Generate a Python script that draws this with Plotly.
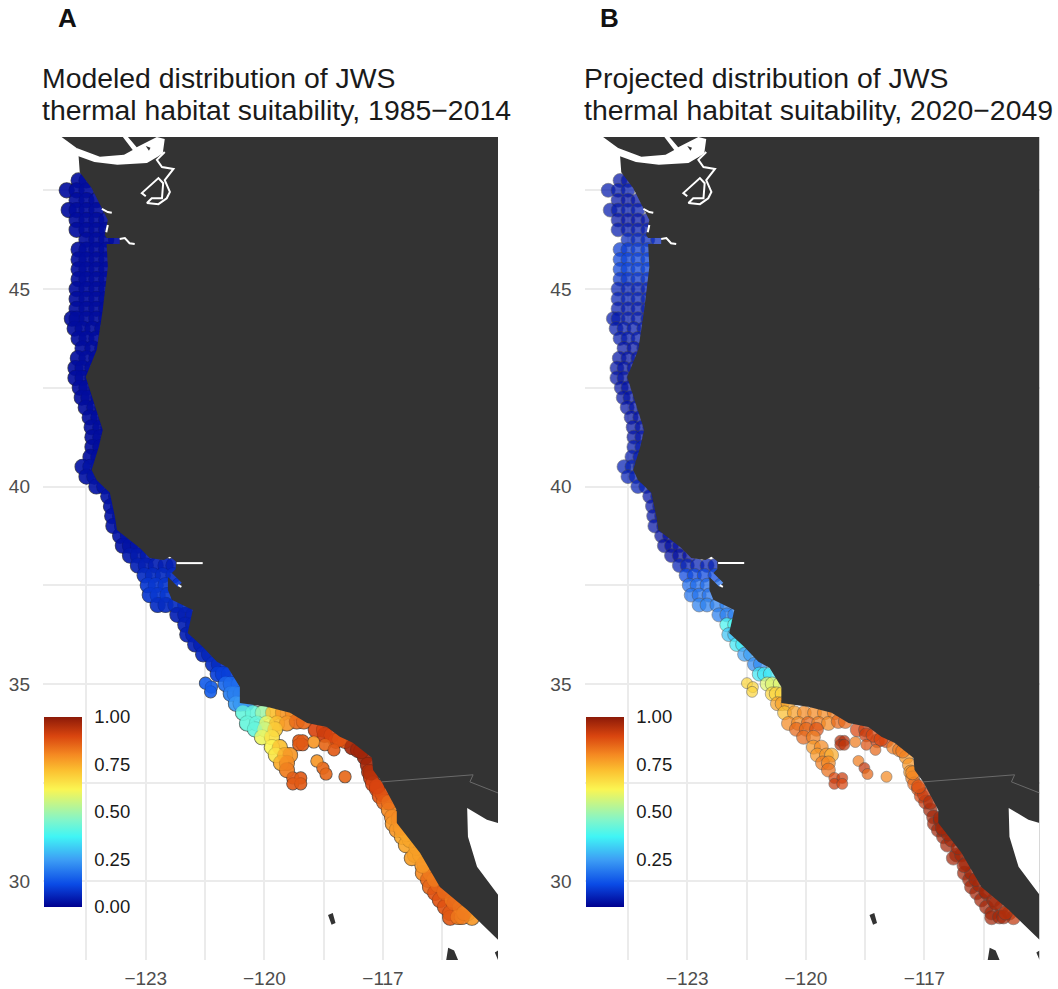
import plotly.graph_objects as go

W, H = 1058, 989
FONT = "Liberation Sans"

COLORSCALE = [[0, "#00008f"], [0.12, "#0a4be6"], [0.25, "#3d9ff5"], [0.37, "#40f5f5"],
              [0.46, "#84f5c8"], [0.62, "#fbf552"], [0.72, "#fbbf30"], [0.8, "#f58a22"],
              [0.9, "#d9450f"], [1, "#8c1a08"]]

LON_TICKS = [-124.5, -123, -121.5, -120, -118.5, -117, -115.5]
LON_LABELS = ["", "\u2212123", "", "\u2212120", "", "\u2212117", ""]
LAT_TICKS = [30, 32.5, 35, 37.5, 40, 42.5, 45, 47.5]
LAT_LABELS = ["30", "", "35", "", "40", "", "45", ""]
LEGEND_TICKS_A = [0, 0.25, 0.5, 0.75, 1]
LEGEND_TICKS_B = [0.25, 0.5, 0.75, 1]

# grid rows: latitude, longitudes, value in panel A, value in panel B
ROW_LAT = [47.75, 47.5, 47.25, 47, 46.75, 46.5, 46.25, 46, 45.75, 45.5, 45.25, 45, 44.75, 44.5, 44.25,
           44, 43.75, 43.5, 43.25, 43, 42.75, 42.5, 42.25, 42, 41.75, 41.5, 41.25, 41, 40.75, 40.5,
           40.25, 40, 39.75, 39.5, 39.25, 39, 38.75, 38.5, 38.25, 38, 37.75, 37.5, 37.25, 37, 36.75,
           36.5, 36.25, 36, 35.75, 35.5, 35.25, 35, 34.75, 34.5]
ROW_LON = [[-124.7, -124.5], [-125, -124.75, -124.5], [-124.75, -124.5, -124.25],
           [-124.95, -124.75, -124.5, -124.25], [-124.75, -124.5, -124.25, -124],
           [-124.75, -124.5, -124.25, -124], [-124.5, -124.25, -124, -123.75],
           [-124.7, -124.5, -124.25, -124], [-124.7, -124.5, -124.25, -124],
           [-124.7, -124.5, -124.25, -124], [-124.7, -124.5, -124.25, -124],
           [-124.75, -124.5, -124.25, -124], [-124.75, -124.5, -124.25, -124],
           [-124.75, -124.5, -124.25, -124], [-124.87, -124.75, -124.5, -124.25, -124],
           [-124.8, -124.6, -124.35, -124.1], [-124.7, -124.5, -124.25, -124],
           [-124.6, -124.35, -124.1], [-124.72, -124.5, -124.25], [-124.78, -124.6, -124.35],
           [-124.78, -124.6, -124.35], [-124.67, -124.5, -124.25], [-124.62, -124.45, -124.2],
           [-124.52, -124.3, -124.1], [-124.42, -124.2, -124], [-124.37, -124.15, -123.95],
           [-124.35, -124.15, -123.95], [-124.35, -124.15], [-124.4, -124.2],
           [-124.6, -124.4, -124.2], [-124.5, -124.3, -124.1], [-124.25, -124.05, -123.85],
           [-123.95, -123.75], [-123.88, -123.7], [-123.85, -123.65], [-123.82, -123.6],
           [-123.65, -123.45], [-123.58, -123.4, -123.2], [-123.4, -123.2, -122.95],
           [-123.2, -123, -122.75, -122.5, -122.3], [-123.03, -122.82, -122.57, -122.3],
           [-122.95, -122.75, -122.5, -122.15], [-122.9, -122.7, -122.45],
           [-122.7, -122.5, -122.25, -122], [-122.2, -122, -121.8], [-122, -121.8],
           [-121.95, -121.8], [-121.75, -121.6], [-121.55, -121.4], [-121.3, -121.15],
           [-121.18, -121.05, -120.9], [-120.98, -120.85, -120.65], [-120.85, -120.75, -120.6],
           [-120.72, -120.6, -120.45]]
ROW_A = [.02, .02, .02, .02, .02, .02, .02, .02, .02, .02, .02, .02, .02, .02, .02,
         .02, .02, .02, .02, .02, .02, .02, .02, .02, .02, .02, .02, .02, .02, .03,
         .03, .03, .03, .03, .03, .03, .03, .03, .04, .05, .07, .09, .09, .07, .05,
         .05, .05, .05, .06, .07, .1, .17, .2, .24]
ROW_B = [.03, .04, .03, .04, .03, .04, .06, .09, .1, .1, .08, .05, .05, .04, .04,
         .04, .04, .03, .03, .03, .03, .03, .03, .03, .03, .03, .03, .04, .04, .05,
         .05, .05, .03, .03, .03, .03, .02, .02, .02, .05, .11, .17, .18, .2, .2,
         .38, .3, .35, .25, .22, .35, .58, .68, .76]

# southern strip cells
PT_LON = [-120.54, -120.29, -120.04, -119.78, -119.53, -119.28, -120.44, -120.19, -119.94, -119.68, -119.43,
          -119.18, -119.0, -120.24, -119.99, -119.73, -120.06, -119.81, -119.81, -119.61, -119.71, -119.48,
          -119.35, -119.58, -119.43, -119.43,
          -118.7, -118.49, -118.47, -118.19, -117.96, -117.78, -117.63, -117.46, -117.38, -117.35, -117.3,
          -117.25, -117.15, -117.08, -116.97, -116.85, -116.77, -116.75, -116.65, -116.52, -116.42, -116.19,
          -116.27, -115.99, -115.86, -115.81, -115.68, -115.56, -115.43, -115.3, -115.3, -115.81, -115.61,
          -115.43, -115.25, -115.05, -114.85, -115.1, -114.75, -116.52, -116.32, -116.06, -116.6, -115.0,
          -118.3, -117.3, -117.0, -116.85, -116.6, -116.4, -116.15, -115.95, -115.7, -115.45, -115.2, -114.95,
          -118.1, -117.55, -117.15, -116.55, -116.0]
PT_LAT = [34.27, 34.27, 34.27, 34.27, 34.27, 34.27, 34.0, 34.0, 34.0, 34.0, 34.0,
          34.05, 34.05, 33.85, 33.85, 33.85, 33.65, 33.65, 33.4, 33.4, 33.2, 33.2,
          33.2, 33.0, 33.0, 32.82,
          33.84, 33.84, 33.71, 33.56, 33.56, 33.4, 33.33, 33.15, 32.95, 32.77, 32.62,
          32.47, 32.34, 32.16, 32.01, 31.81, 31.63, 31.46, 31.3, 31.13, 30.92, 30.67,
          30.59, 30.21, 30.04, 29.86, 29.71, 29.53, 29.35, 29.2, 29.08, 30.21, 29.91,
          29.71, 29.53, 29.35, 29.2, 29.1, 29.08, 31.3, 31.05, 30.67, 31.55, 29.1,
          33.7, 32.75, 32.2, 32.0, 31.6, 31.2, 30.85, 30.45, 30.05, 29.75, 29.45, 29.2,
          33.6, 33.3, 32.4, 31.35, 30.4]
PT_A = [.42, .42, .5, .72, .78, .8, .42, .42, .6, .72, .78,
        .85, .85, .42, .55, .7, .6, .66, .62, .72, .65, .75,
        .78, .75, .8, .82,
        .9, .9, .92, .88, .88, .97, .97, .98, .97, .95, .93,
        .9, .9, .88, .85, .8, .8, .78, .78, .76, .76, .76,
        .77, .8, .85, .85, .88, .88, .88, .87, .87, .82, .85,
        .85, .82, .8, .78, .82, .78, .76, .76, .77, .78, .82,
        .9, .95, .88, .84, .8, .76, .77, .78, .82, .85, .85, .82,
        .88, .97, .9, .78, .78]
PT_B = [.72, .77, .8, .8, .8, .82, .8, .8, .85, .82, .8,
        .85, .85, .85, .85, .88, .85, .82, .78, .8, .78, .78,
        .75, .82, .8, .84,
        .9, .92, .92, .92, .9, .82, .82, .78, .78, .78, .82,
        .85, .88, .9, .93, .97, .97, .97, .97, .97, .97, .97,
        .97, .97, .97, .97, .97, .97, .97, .97, .97, .97, .97,
        .97, .97, .95, .93, .97, .93, .97, .97, .97, .97, .97,
        .9, .8, .92, .95, .97, .97, .97, .97, .97, .97, .97, .95,
        .9, .82, .88, .97, .97]

# island cells, drawn smaller
ISO_LON = [-121.49, -121.34, -121.36, -119.13, -119.03, -119.13, -119.03, -118.75, -118.47, -118.24, -118.67,
           -118.52, -118.44, -117.96, -119.28, -119.08, -119.28, -119.08]
ISO_LAT = [35.02, 34.92, 34.8, 33.56, 33.56, 33.46, 33.46, 33.53, 33.46, 33.33, 33.05,
           32.87, 32.72, 32.65, 32.62, 32.62, 32.47, 32.47]
ISO_A = [.15, .15, .15, .87, .87, .87, .87, .78, .85, .87, .78,
         .85, .85, .85, .87, .87, .87, .87]
ISO_B = [.68, .68, .68, .95, .95, .95, .93, .82, .88, .85, .82,
         .93, .85, .8, .9, .92, .92, .9]

# land, water and border outlines (degrees)
LAND_LON = [-125.13, -124.75, -124.7, -124.67, -124.37, -124.11, -123.96, -124.04, -123.99, -123.66, -123.66,
            -123.99, -123.96, -124.09, -124.24, -124.52, -124.16, -124.09, -124.19, -124.37, -124.24, -123.91,
            -123.78, -123.73, -123.15, -122.9, -122.54, -122.39, -122.24, -122.24, -122.34, -122.09, -122.19,
            -122.44, -122.44, -122.34, -121.81, -121.89, -121.94, -121.56, -121.2, -120.92, -120.62, -120.62,
            -119.94, -119.35, -118.92, -118.42, -118.09, -117.76, -117.28, -117.25, -117.03, -116.65, -116.65,
            -116.06, -115.81, -115.56, -114.87, -114.54, -114.09, -114.09, -125.13]
LAND_LAT = [48.85, 48.57, 48.37, 47.96, 47.56, 47.05, 46.75, 46.37, 46.29, 46.29, 46.14,
            46.14, 45.56, 44.47, 43.46, 42.77, 41.68, 41.43, 41.0, 40.42, 40.16, 39.84,
            39.23, 38.9, 38.44, 38.19, 38.14, 38.22, 38.11, 37.91, 37.81, 37.56, 37.46,
            37.71, 37.38, 37.13, 36.87, 36.54, 36.29, 35.94, 35.56, 35.41, 34.92, 34.52,
            34.42, 34.27, 34.01, 33.91, 33.66, 33.51, 33.13, 32.82, 32.52, 31.81, 31.48,
            30.72, 30.29, 29.86, 29.28, 28.95, 28.52, 48.85, 48.85]
STRAIT_LON = [-124.75, -124.16, -123.55, -123.33, -123.58, -123.45, -123.23, -122.97, -122.72, -122.52, -122.57,
              -122.7, -122.97, -123.72, -124.3, -124.72, -124.8]
STRAIT_LAT = [48.57, 48.35, 48.4, 48.52, 48.85, 48.85, 48.59, 48.72, 48.85, 48.8, 48.44,
              48.35, 48.19, 48.15, 48.22, 48.37, 48.47]
GULF_LON = [-114.09, -114.37, -114.87, -114.85, -114.62, -114.09]
GULF_LAT = [31.48, 31.56, 31.86, 31.13, 30.37, 29.66]
SOUND_LON = [-122.52, -122.72, -122.59, -122.3, -122.52, -122.39, -122.47, -122.68, -122.97, -122.85, -122.59,
             -122.56, -122.68, -123.1, -123.0, None, -124.11, -123.96, -123.86, None, -123.96, -124.0, None,
             -123.66, -123.53, -123.41, -123.28, None, -122.22, -121.56, None, -122.18, -122.1]
SOUND_LAT = [48.47, 48.27, 48.09, 48.04, 47.76, 47.46, 47.3, 47.15, 47.18, 47.3, 47.3,
             47.68, 47.81, 47.43, 47.35, None, 47.03, 46.95, 46.93, None, 46.62, 46.44, None,
             46.27, 46.29, 46.16, 46.14, None, 38.06, 38.06, None, 37.5, 37.46]
BORDER_LON = [-117.03, -114.72, -114.8, -114.09]
BORDER_LAT = [32.52, 32.7, 32.52, 32.24]
ISLES_LON = [-118.39, -118.27, -118.2, -118.3, None, -115.35, -115.2, -115.1, -115.4, None, -114.17, -114.09, -114.09,
             None, -123.0, -122.88, -122.92]
ISLES_LAT = [29.15, 29.2, 28.95, 28.9, None, 28.32, 28.25, 28.01, 28.01, None, 28.2, 28.25, 28.01,
             None, 48.62, 48.58, 48.5]

LON_RANGE = [-125.6, -114.09]
LAT_RANGE = [28.01, 48.85]

lons, lats, val_a, val_b = [], [], [], []
for lat, row, a, b in zip(ROW_LAT, ROW_LON, ROW_A, ROW_B):
    for lon in row:
        lons.append(lon); lats.append(lat); val_a.append(a); val_b.append(b)
lons += PT_LON; lats += PT_LAT; val_a += PT_A; val_b += PT_B
n_big = len(lons)
lons += ISO_LON; lats += ISO_LAT; val_a += ISO_A; val_b += ISO_B
n_iso = len(ISO_LON)

fig = go.Figure()


def add_panel(suffix, values, titles, letter, left, ticks, translucent):
    xa, ya = "x" + suffix, "y" + suffix
    cbar = dict(xref="container", yref="container", x=(left + 2) / W, xanchor="left",
                y=(H - 907) / H, yanchor="bottom", thickness=38, thicknessmode="pixels",
                len=190, lenmode="pixels", xpad=0, ypad=0, outlinewidth=0,
                tickvals=ticks, ticktext=["%.2f" % t for t in ticks], ticks="outside", ticklen=9,
                tickcolor="rgba(255,255,255,0)", tickfont=dict(family=FONT, size=18.5, color="#1a1a1a"))
    if translucent:
        fig.add_trace(go.Scatter(x=lons, y=lats, xaxis=xa, yaxis=ya, mode="markers", hoverinfo="skip",
                                 marker=dict(size=[14] * n_big + [11] * n_iso, color=values, cmin=0, cmax=1,
                                             colorscale=COLORSCALE, opacity=0.72,
                                             line=dict(color="#444444", width=0.6), colorbar=cbar)))
    else:
        fig.add_trace(go.Scatter(x=lons, y=lats, xaxis=xa, yaxis=ya, mode="markers", hoverinfo="skip",
                                 marker=dict(size=[15] * n_big + [12] * n_iso, color=values, cmin=0, cmax=1,
                                             colorscale=COLORSCALE,
                                             line=dict(color="#151515", width=1.2), colorbar=cbar)))
        fig.add_trace(go.Scatter(x=lons, y=lats, xaxis=xa, yaxis=ya, mode="markers", hoverinfo="skip",
                                 marker=dict(size=[15] * n_big + [12] * n_iso, color=values, cmin=0, cmax=1,
                                             colorscale=COLORSCALE, showscale=False, line=dict(width=0))))
    for lx, ly, col in ((LAND_LON, LAND_LAT, "#333333"), (STRAIT_LON, STRAIT_LAT, "white"),
                        (GULF_LON, GULF_LAT, "white"), (ISLES_LON, ISLES_LAT, "#333333")):
        fig.add_trace(go.Scatter(x=lx, y=ly, xaxis=xa, yaxis=ya, mode="lines", fill="toself", fillcolor=col,
                                 line=dict(width=0, color=col), hoverinfo="skip"))
    fig.add_trace(go.Scatter(x=SOUND_LON, y=SOUND_LAT, xaxis=xa, yaxis=ya, mode="lines",
                             line=dict(color="white", width=2), hoverinfo="skip"))
    fig.add_trace(go.Scatter(x=BORDER_LON, y=BORDER_LAT, xaxis=xa, yaxis=ya, mode="lines",
                             line=dict(color="#6a6a6a", width=1), hoverinfo="skip"))
    for text, y in zip(titles, (78, 110)):
        fig.add_annotation(text=text, xref="paper", yref="paper", x=(left - 2) / W, y=1 - y / H,
                           xanchor="left", yanchor="middle", showarrow=False,
                           font=dict(family=FONT, size=28.4, color="#1a1a1a"))
    fig.add_annotation(text="<b>%s</b>" % letter, xref="paper", yref="paper", x=(left + 14) / W, y=1 - 18 / H,
                       xanchor="left", yanchor="middle", showarrow=False,
                       font=dict(family=FONT, size=26, color="#111111"))
    for t in ticks:
        yp = 1 - (907 - 190 * t) / H
        for a, b in ((left + 2, left + 9), (left + 33, left + 40)):
            fig.add_shape(type="line", xref="paper", yref="paper", x0=a / W, x1=b / W, y0=yp, y1=yp,
                          line=dict(color="rgba(255,255,255,0.7)", width=1))


add_panel("", val_a, ["Modeled distribution of JWS", "thermal habitat suitability, 1985\u22122014"],
          "A", 42, LEGEND_TICKS_A, False)
add_panel("2", val_b, ["Projected distribution of JWS", "thermal habitat suitability, 2020\u22122049"],
          "B", 584, LEGEND_TICKS_B, True)

axis_x = dict(range=LON_RANGE, tickmode="array", tickvals=LON_TICKS, ticktext=LON_LABELS, showgrid=True,
              gridcolor="#ebebeb", gridwidth=1.5, zeroline=False, showline=False, ticks="",
              ticklabelstandoff=5, tickfont=dict(family=FONT, size=19, color="#4d4d4d"), fixedrange=True)
axis_y = dict(range=LAT_RANGE, tickmode="array", tickvals=LAT_TICKS, ticktext=LAT_LABELS, showgrid=True,
              gridcolor="#ebebeb", gridwidth=1.5, zeroline=False, showline=False, ticks="",
              ticklabelstandoff=12, tickfont=dict(family=FONT, size=19, color="#4d4d4d"), fixedrange=True)
top, bottom = 1 - 137 / H, 1 - 960 / H
fig.update_layout(
    width=W, height=H, autosize=False,
    margin=dict(l=0, r=0, t=0, b=0, autoexpand=False), showlegend=False,
    paper_bgcolor="white", plot_bgcolor="white",
    xaxis=dict(axis_x, domain=[43 / W, 498 / W], anchor="y", automargin=False),
    yaxis=dict(axis_y, domain=[bottom, top], anchor="x", automargin=False),
    xaxis2=dict(axis_x, domain=[584.5 / W, 1039.5 / W], anchor="y2", automargin=False),
    yaxis2=dict(axis_y, domain=[bottom, top], anchor="x2", automargin=False),
)
fig.write_html("out.html", config=dict(displayModeBar=False),
               post_script="document.body.style.margin='0';document.body.style.overflow='hidden';")
